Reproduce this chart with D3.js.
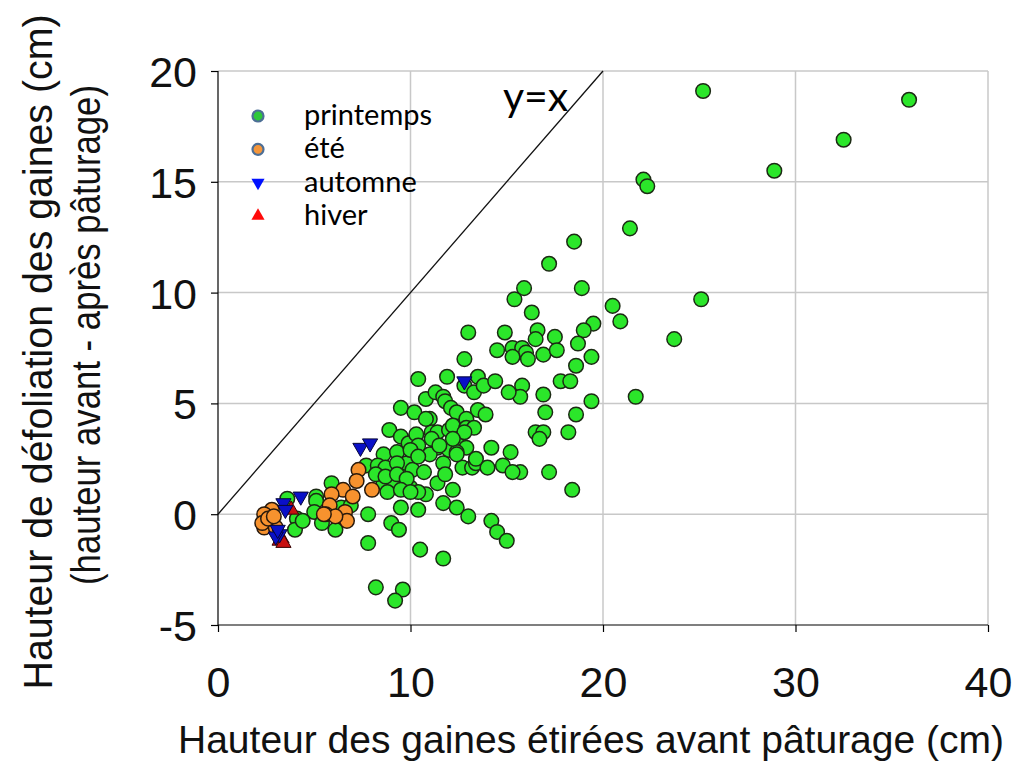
<!DOCTYPE html>
<html>
<head>
<meta charset="utf-8">
<script src="https://cdn.jsdelivr.net/npm/d3@7"></script>
<style>
  body { margin: 0; background: #fff; }
  svg { display: block; }
</style>
</head>
<body>
<svg id="chart" width="1017" height="764"></svg>
<script>
// printemps (spring) points: [stretched sheath height before grazing, defoliation height]
var printemps = [
  [25.2,19.1],[35.9,18.7],[32.5,16.9],[28.9,15.5],[22.1,15.1],[22.3,14.8],[21.4,12.9],[20.5,9.4],[20.9,8.7],[25.1,9.7],[23.7,7.9],[21.7,5.3],
  [18.5,12.3],[17.2,11.3],[18.9,10.2],[15.9,10.2],[15.4,9.7],[16.3,9.1],[19.5,8.6],[19.0,8.3],[16.6,8.3],[16.5,7.9],[14.9,8.2],[17.5,8.0],
  [18.7,7.7],[14.5,7.4],[15.3,7.5],[15.8,7.5],[16.0,7.3],[15.3,7.1],[16.1,7.0],[16.9,7.2],[17.6,7.4],[19.4,7.1],[18.6,6.7],
  [17.8,6.0],[18.3,6.0],[15.8,5.8],[16.9,5.4],[15.7,5.3],[19.4,5.1],[17.0,4.6],[18.6,4.5],[16.5,3.7],[16.9,3.7],[16.7,3.4],[18.2,3.7],
  [17.2,1.9],[18.4,1.1],[15.7,1.9],
  [13.0,8.2],[12.8,7.0],[10.4,6.1],[11.9,6.2],[13.5,6.2],[12.8,5.8],[13.3,5.5],[13.8,5.8],[14.4,6.0],[15.1,5.5],
  [9.5,4.8],[10.2,4.6],[10.8,5.2],[11.3,5.5],[11.7,5.3],[11.8,5.1],[12.1,4.8],[12.4,4.6],[11.0,4.3],[13.5,4.7],[13.9,4.5],[12.9,4.3],
  [8.9,3.8],[9.5,3.5],[9.9,3.2],[10.3,3.6],[10.4,3.1],[11.1,3.7],[11.4,3.7],[12.4,3.2],[12.0,3.8],[12.2,4.0],[12.9,3.9],[13.3,3.9],
  [12.8,3.7],[11.4,3.0],[12.0,2.9],[12.9,3.0],[14.2,3.0],[15.2,2.8],
  [8.6,2.7],[9.3,2.8],[9.8,2.3],[10.1,2.0],[10.7,1.9],[11.0,2.7],[11.7,2.3],[12.4,2.8],[12.7,2.1],[13.2,2.1],[13.4,2.3],[14.0,2.1],
  [14.8,2.2],[15.3,1.9],
  [8.6,1.4],[9.1,1.5],[10.0,1.2],[10.8,0.9],[11.4,1.4],[11.8,1.8],[12.2,1.1],[9.5,0.3],[10.4,0.2],[11.7,0.5],[12.4,0.3],[13.0,-0.1],
  [14.2,-0.3],[14.5,-0.8],[15.0,-1.2],[9.0,-0.4],[9.4,-0.7],[10.5,-1.6],
  [7.8,0.0],[7.8,-1.3],[11.7,-2.0],[8.2,-3.3],[9.6,-3.4],[9.2,-3.9],
  [10.0,2.9],[10.4,2.6],[7.7,2.2],[8.3,2.2],[8.7,2.1],[9.3,2.3],[8.2,1.8],[8.7,1.7],[9.3,1.8],[9.8,1.6],[10.4,1.0],[8.8,1.0],
  [9.5,1.1],[10.0,1.0],
  [10.8,4.3],[12.2,3.4],[11.1,3.4],[11.5,3.1],[13.4,2.5],[12.4,2.7],
  [5.9,1.4],[5.1,0.8],[5.1,0.6],[5.0,0.1],[5.4,-0.4],[6.1,-0.7],[4.1,-0.2],[4.0,-0.7],[4.4,-0.3],[3.6,0.7],[6.4,0.3],[6.9,0.4]
];

// été (summer)
var ete = [
  [7.3,2.0],[7.2,1.5],[6.5,1.1],[7.0,0.8],[8.0,1.1],[5.9,0.9],[5.8,0.4],[5.6,0.0],[6.6,0.1],[6.7,-0.3],[6.1,-0.1],[5.5,0.0],
  [2.8,0.2],[2.4,0.0],[2.7,-0.3],[2.4,-0.6],[3.0,-0.6],[2.3,-0.4],[2.6,-0.2],[2.9,-0.1]
];

// automne (autumn)
var automne = [
  [12.8,6.0],[7.4,3.0],[7.9,3.2],[4.3,0.8],[3.4,0.5],[3.5,0.2],[3.2,-0.9],[3.0,-1.0],[3.1,-0.7]
];

// hiver (winter)
var hiver = [
  [3.8,0.2],[3.3,-1.1],[3.2,-1.2],[3.4,-1.3]
];

var seasons = ['printemps', 'été', 'automne', 'hiver'];
var xTicks = [0, 10, 20, 30, 40];
var yTicks = [-5, 0, 5, 10, 15, 20];

let svg = d3.select('#chart');

let margin = { top: 71, right: 29, bottom: 139, left: 218 };
let plotWidth = 1017 - margin.left - margin.right;
let plotHeight = 764 - margin.top - margin.bottom;

let xScale = d3.scaleLinear().domain([0, 40]).range([0, plotWidth]);
let yScale = d3.scaleLinear().domain([-5, 20]).range([plotHeight, 0]);

let plot = svg.append('g')
  .attr('transform', 'translate(' + margin.left + ',' + margin.top + ')');

// grid lines
plot.append('g').selectAll('line')
  .data(yTicks.filter(d => d > -5))
  .enter().append('line')
  .attr('x1', 0).attr('x2', plotWidth)
  .attr('y1', d => yScale(d)).attr('y2', d => yScale(d))
  .attr('stroke', '#c8c8c8').attr('stroke-width', 1.5);

plot.append('g').selectAll('line')
  .data(xTicks.filter(d => d > 0))
  .enter().append('line')
  .attr('x1', d => xScale(d)).attr('x2', d => xScale(d))
  .attr('y1', 0).attr('y2', plotHeight)
  .attr('stroke', '#c8c8c8').attr('stroke-width', 1.5);

// axes (plain hyphen for negative labels, like the original)
let fmt = d => String(d);
let xAxis = d3.axisBottom(xScale).tickValues(xTicks).tickFormat(fmt).tickSize(7).tickPadding(34);
let yAxis = d3.axisLeft(yScale).tickValues(yTicks).tickFormat(fmt).tickSize(7).tickPadding(14);

let xGroup = plot.append('g').attr('transform', 'translate(0,' + plotHeight + ')').call(xAxis);
let yGroup = plot.append('g').call(yAxis);

[xGroup, yGroup].forEach(g => {
  g.select('.domain').attr('stroke', '#000').attr('stroke-width', 1.2);
  g.selectAll('.tick line').attr('stroke', '#000').attr('stroke-width', 1.2);
  g.selectAll('.tick text')
    .attr('fill', '#111')
    .style('font-family', '"Liberation Sans", Arial, sans-serif')
    .style('font-size', '43px');
});
xGroup.select('.domain').attr('d', 'M0,0H' + plotWidth);
yGroup.select('.domain').attr('d', 'M0,0V' + plotHeight);
yGroup.selectAll('.tick text').attr('dy', '0.36em');
xGroup.selectAll('.tick text').attr('dy', '0.71em');

// y = x reference line
plot.append('line')
  .attr('x1', xScale(0)).attr('y1', yScale(0))
  .attr('x2', xScale(20)).attr('y2', yScale(20))
  .attr('stroke', '#111').attr('stroke-width', 1.3);

plot.append('text')
  .text('y=x')
  .attr('x', xScale(14.8)).attr('y', yScale(18.2))
  .style('font-family', 'Lato, "Open Sans", sans-serif')
  .style('font-size', '41px')
  .attr('fill', '#000');

// points
let circleStroke = '#1c2a14';
plot.append('g').selectAll('circle')
  .data(printemps)
  .enter().append('circle')
  .attr('cx', d => xScale(d[0])).attr('cy', d => yScale(d[1]))
  .attr('r', 7.3)
  .attr('fill', '#2be62a').attr('stroke', circleStroke).attr('stroke-width', 1.5);

plot.append('g').selectAll('circle')
  .data(ete)
  .enter().append('circle')
  .attr('cx', d => xScale(d[0])).attr('cy', d => yScale(d[1]))
  .attr('r', 7.3)
  .attr('fill', '#f7922e').attr('stroke', '#2a1a0c').attr('stroke-width', 1.5);

let tri = d3.symbol().type(d3.symbolTriangle).size(100);

plot.append('g').selectAll('path')
  .data(hiver)
  .enter().append('path')
  .attr('d', tri)
  .attr('transform', d => 'translate(' + xScale(d[0]) + ',' + yScale(d[1]) + ')')
  .attr('fill', '#c81010').attr('stroke', '#3a0606').attr('stroke-width', 1);

plot.append('g').selectAll('path')
  .data(automne)
  .enter().append('path')
  .attr('d', tri)
  .attr('transform', d => 'translate(' + xScale(d[0]) + ',' + yScale(d[1]) + ') rotate(180)')
  .attr('fill', '#0a10c8').attr('stroke', '#06063a').attr('stroke-width', 1);

// legend
let legend = svg.append('g').attr('transform', 'translate(258,116)');
let rowGap = 33.3;
let legendFill = ['#2ec83a', '#f5963a'];
seasons.forEach((s, i) => {
  let row = legend.append('g').attr('transform', 'translate(0,' + (i * rowGap) + ')');
  if (i < 2) {
    row.append('circle').attr('r', 5.5)
      .attr('fill', legendFill[i]).attr('stroke', '#4d6f96').attr('stroke-width', 2.2);
  } else {
    row.append('path')
      .attr('d', d3.symbol().type(d3.symbolTriangle).size(75))
      .attr('transform', i === 2 ? 'rotate(180)' : null)
      .attr('fill', i === 2 ? '#0010ff' : '#ff0a0a');
  }
  row.append('text')
    .text(s)
    .attr('x', 46).attr('y', 9)
    .style('font-family', 'Lato, "Open Sans", sans-serif')
    .style('font-size', '29px')
    .attr('fill', '#000');
});

// axis titles
svg.append('text')
  .text('Hauteur des gaines étirées avant pâturage (cm)')
  .attr('x', 591).attr('y', 753)
  .attr('text-anchor', 'middle')
  .attr('textLength', 826).attr('lengthAdjust', 'spacingAndGlyphs')
  .style('font-family', '"Liberation Sans", Arial, sans-serif')
  .style('font-size', '38px')
  .attr('fill', '#111');

svg.append('text')
  .text('Hauteur de défoliation des gaines (cm)')
  .attr('transform', 'translate(52,352) rotate(-90)')
  .attr('text-anchor', 'middle')
  .attr('textLength', 675).attr('lengthAdjust', 'spacingAndGlyphs')
  .style('font-family', '"Liberation Sans", Arial, sans-serif')
  .style('font-size', '40px')
  .attr('fill', '#111');

svg.append('text')
  .text('(hauteur avant - après pâturage)')
  .attr('transform', 'translate(100,335) rotate(-90)')
  .attr('text-anchor', 'middle')
  .attr('textLength', 500).attr('lengthAdjust', 'spacingAndGlyphs')
  .style('font-family', '"Liberation Sans", Arial, sans-serif')
  .style('font-size', '40px')
  .attr('fill', '#111');
</script>
</body>
</html>
